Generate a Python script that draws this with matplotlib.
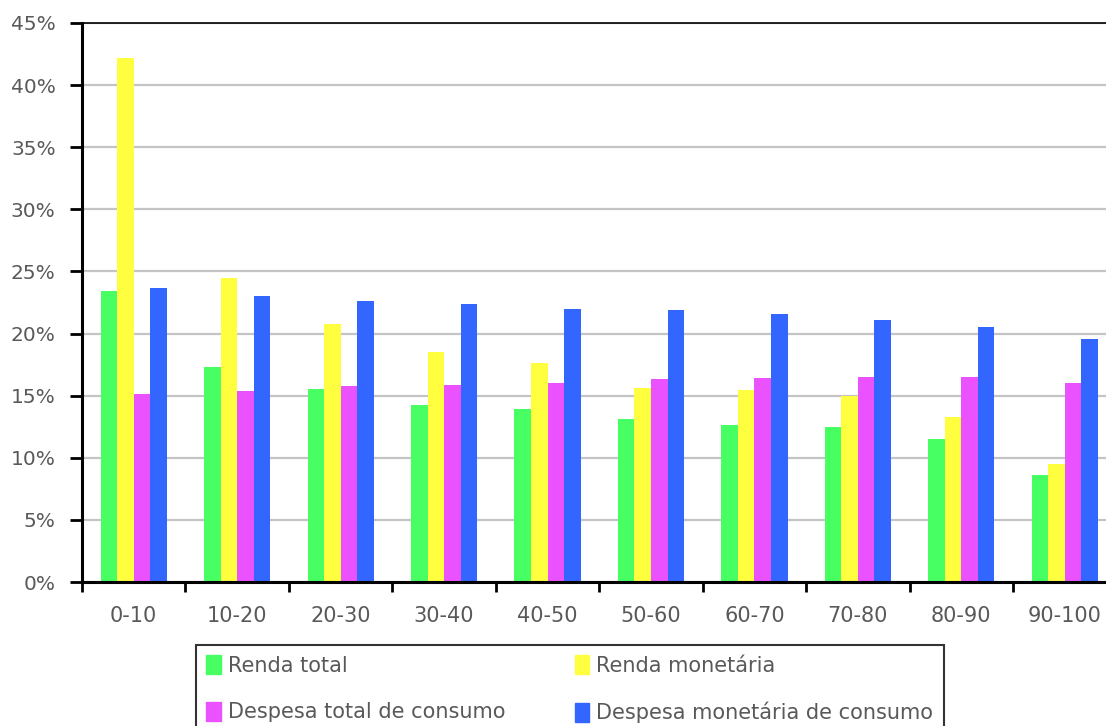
import matplotlib.pyplot as plt
import numpy as np
from matplotlib.patches import Patch
from matplotlib.ticker import FuncFormatter, FixedLocator

categories = ["0-10", "10-20", "20-30", "30-40", "40-50",
              "50-60", "60-70", "70-80", "80-90", "90-100"]

renda_total = [23.4, 17.3, 15.5, 14.25, 13.95, 13.1, 12.65, 12.5, 11.5, 8.6]
renda_monetaria = [42.15, 24.45, 20.8, 18.5, 17.65, 15.65, 15.45, 14.95, 13.3, 9.5]
despesa_total = [15.1, 15.35, 15.75, 15.85, 16.05, 16.35, 16.4, 16.5, 16.5, 16.05]
despesa_monetaria = [23.7, 23.05, 22.6, 22.4, 22.0, 21.9, 21.55, 21.1, 20.55, 19.55]

series = [
    ("Renda total", renda_total, "#47FF63"),
    ("Renda monetária", renda_monetaria, "#FFFF40"),
    ("Despesa total de consumo", despesa_total, "#EB52FF"),
    ("Despesa monetária de consumo", despesa_monetaria, "#3366FF"),
]

text_color = "#595959"
plt.rcParams["font.family"] = ["DejaVu Sans"]

W, H = 1106, 726
fig = plt.figure(figsize=(W / 100, H / 100), dpi=100)
# plot area is cropped on the right in the reference
ax = fig.add_axes([82 / W, 1 - 582 / H, 1034.5 / W, 559 / H])

x = np.arange(len(categories))
width = 0.16
for i, (name, vals, color) in enumerate(series):
    ax.bar(x + (i - 1.5) * width, vals, width, color=color, label=name, zorder=2)

ax.set_xlim(-0.5, len(categories) - 0.5)
ax.set_ylim(0, 45)
ax.set_yticks(np.arange(0, 46, 5))
ax.yaxis.set_major_formatter(FuncFormatter(lambda v, p: f"{v:.0f}%"))
ax.set_xticks(x)
ax.set_xticklabels(categories)
ax.xaxis.set_minor_locator(FixedLocator(np.arange(-0.5, len(categories), 1)))
ax.tick_params(axis="x", which="major", length=0, pad=17, labelsize=15, labelcolor=text_color)
ax.tick_params(axis="x", which="minor", length=7, width=2, direction="out", color="black")
ax.tick_params(axis="y", length=9, width=2, direction="out", pad=10, labelsize=14.5,
               labelcolor=text_color)

ax.grid(axis="y", color="#C4C4C4", linewidth=1.6, zorder=0)
ax.set_axisbelow(True)
ax.spines["left"].set_linewidth(2.2)
ax.spines["bottom"].set_linewidth(2.2)
ax.spines["top"].set_linewidth(1.2)
ax.spines["right"].set_visible(False)

handles = [Patch(color=c, label=n) for n, _, c in series]
order = [0, 2, 1, 3]
leg = fig.legend([handles[k] for k in order], [series[k][0] for k in order],
                 ncol=2, loc="upper left", bbox_to_anchor=(196 / W, 1 - 645 / H),
                 frameon=True, fancybox=False, edgecolor="black", fontsize=15,
                 handlelength=0.7, handleheight=1.0, handletextpad=0.35,
                 columnspacing=3.3, labelspacing=1.25, borderpad=0.5, borderaxespad=0)
leg.get_frame().set_linewidth(1.5)
for t in leg.get_texts():
    t.set_color(text_color)

fig.savefig("out.png", dpi=100)
